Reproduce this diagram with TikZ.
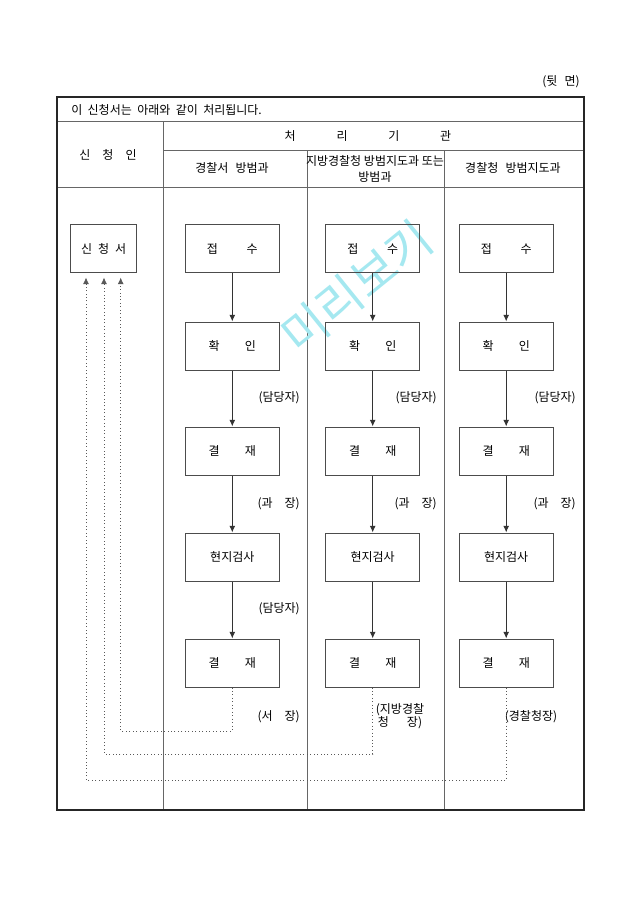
\documentclass[tikz,border=0pt]{standalone}
\usepackage{fontspec}
\setmainfont{Noto Sans CJK KR}
\usepackage{xcolor}
\usepackage{tikz}
\usetikzlibrary{arrows.meta,positioning,calc}
\definecolor{markcyan}{RGB}{165,232,240}
\tikzset{
	>=latex,
	gridline/.style = {draw=black!60, line width=0.6pt},
	frameline/.style = {draw=black!85, line width=1.4pt},
	stepbox/.style = {
			draw = black!70,
			line width = 0.75pt,
			minimum width = 70.5pt,
			minimum height = 36pt,
			inner sep = 0pt,
		},
	flowline/.style = {draw=black!80, line width=0.75pt, -{Latex[length=5pt,width=4.5pt]}},
	retline/.style = {draw=black!65, dotted, line width=0.6pt, -{Latex[length=5pt,width=4.5pt]}, shorten >=3pt},
	remark/.style = {anchor=east, inner sep=0pt},
}

\begin{document}
\begin{tikzpicture}[x=0.75pt,y=-0.75pt,font=\fontsize{9}{10}\selectfont]
	\useasboundingbox (0,0) rectangle (640,905);

	% Table frame
	\draw[gridline] (57,121.7) -- (584,121.7);
	\draw[gridline] (163,150.7) -- (584,150.7);
	\draw[gridline] (57,187) -- (584,187);
	\draw[gridline] (163,121.7) -- (163,810);
	\draw[gridline] (307.5,150.7) -- (307.5,810);
	\draw[gridline] (444,150.7) -- (444,810);
	\draw[frameline] (57,97) rectangle (584,810);

	% Heading texts
	\node[remark] (side) at (580,82) {(뒷\hspace{0.6em}면)};
	\node[anchor=west, inner sep=0pt] (title) at (71,109.5) {이\hspace{0.45em}신청서는\hspace{0.45em}아래와\hspace{0.45em}같이\hspace{0.45em}처리됩니다.};
	\node (applicant) at (108,155) {신\hspace{1em}청\hspace{1em}인};
	\node (office) at (368,136) {처\hspace{3.4em}리\hspace{3.4em}기\hspace{3.4em}관};
	\node (heada) at (232,168) {경찰서\hspace{0.6em}방범과};
	\node[align=center] (headb) at (375,169) {지방경찰청 방범지도과 또는\\[2pt]방범과};
	\node (headc) at (513,168) {경찰청\hspace{0.6em}방범지도과};

	% Watermark
	\node[text=markcyan, rotate=39, font=\fontsize{36}{36}\selectfont] (wmark) at (357,287) {미리보기};

	% Application form
	\node[stepbox, minimum width=49.5pt] (sin) at (103.7,249) {신\hspace{0.5em}청\hspace{0.5em}서};

	% Processing steps of each office
	\foreach \c/\x in {a/232.3, b/372.7, c/506.2}
		{   \node[stepbox] (\c1) at (\x,249) {접\hspace{2.4em}수};
			\node[stepbox] (\c2) at (\x,346) {확\hspace{2.1em}인};
			\node[stepbox] (\c3) at (\x,451) {결\hspace{2.1em}재};
			\node[stepbox] (\c4) at (\x,557) {현지검사};
			\node[stepbox] (\c5) at (\x,663) {결\hspace{2.1em}재};
			\draw[flowline] (\c1) -- (\c2);
			\draw[flowline] (\c2) -- (\c3);
			\draw[flowline] (\c3) -- (\c4);
			\draw[flowline] (\c4) -- (\c5);
		}

	% Persons in charge
	\node[remark] (ta2) at (300,398) {(담당자)};
	\node[remark] (tb2) at (437,398) {(담당자)};
	\node[remark] (tc2) at (576,398) {(담당자)};
	\node[remark] (ta3) at (300,504) {(과\hspace{1em}장)};
	\node[remark] (tb3) at (437,504) {(과\hspace{1em}장)};
	\node[remark] (tc3) at (576,504) {(과\hspace{1em}장)};
	\node[remark] (ta4) at (300,609) {(담당자)};
	\node[remark] (ta5) at (300,717) {(서\hspace{1em}장)};
	\node[align=center, inner sep=0pt] (tb5) at (400,716.5) {(지방경찰\\청\hspace{1.5em}장)};
	\node[inner sep=0pt] (tc5) at (531,717) {(경찰청장)};

	% Returns to the applicant
	\coordinate (ra) at (120.7,731);
	\coordinate (rb) at (104,754);
	\coordinate (rc) at (86,780);
	\draw[retline] (a5.south) |- (ra) -- (ra |- sin.south);
	\draw[retline] (b5.south) |- (rb) -- (rb |- sin.south);
	\draw[retline] (c5.south) |- (rc) -- (rc |- sin.south);
\end{tikzpicture}
\end{document}
